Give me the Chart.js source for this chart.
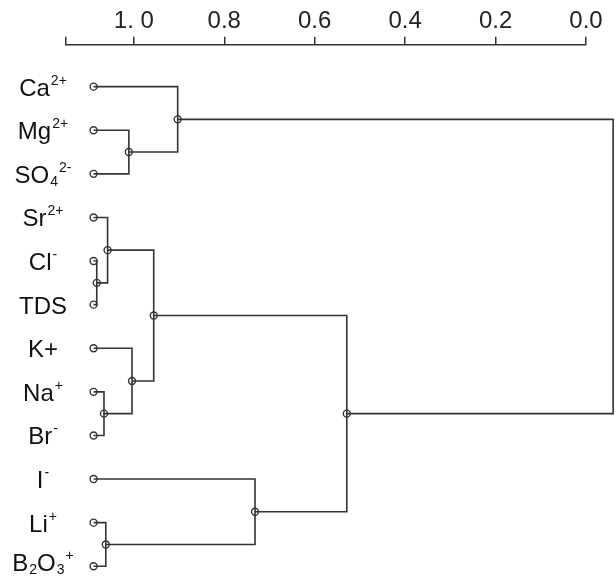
<!DOCTYPE html>
<html>
<head>
<meta charset="utf-8">
<script src="https://cdn.jsdelivr.net/npm/chart.js@4.4.1/dist/chart.umd.min.js"></script>
<style>
  html, body { margin: 0; padding: 0; background: #fff; }
  canvas { display: block; }
</style>
</head>
<body>
<canvas id="dendro" width="616" height="576"></canvas>
<script>
// leaves top to bottom (^ = superscript rest, _ = one subscript char)
const leafLabels = ["Ca^2+", "Mg^2+", "SO_4^2-", "Sr^2+", "Cl^-", "TDS", "K+", "Na^+", "Br^-", "I^-", "Li^+", "B_2O_3^+"];
const leafHeight = 1.089;

// merges, in order; node ids 0-11 are leaves, 12+ are these merges
const mergeLeft   = [4, 7, 10, 3, 1, 6, 15, 0, 9, 18, 19];
const mergeRight  = [5, 8, 11, 12, 2, 13, 17, 16, 14, 20, 21];
const mergeHeight = [1.082, 1.066, 1.062, 1.058, 1.011, 1.004, 0.956, 0.903, 0.732, 0.529, -0.060];

const tickValues = [1.15, 1.0, 0.8, 0.6, 0.4, 0.2, 0.0];
const tickLabels = ["", "1. 0", "0.8", "0.6", "0.4", "0.2", "0.0"];

const lineColor = "#333";
const fontFam = "'Liberation Sans', Arial";

// node positions
let nodeX = leafLabels.map(() => leafHeight);
let nodeY = leafLabels.map((l, i) => i);
mergeHeight.forEach((h, k) => {
    nodeX.push(h);
    nodeY.push((nodeY[mergeLeft[k]] + nodeY[mergeRight[k]]) / 2);
});

let datasets = [];
mergeHeight.forEach((h, k) => {
    let a = mergeLeft[k], b = mergeRight[k];
    datasets.push({
        type: "line",
        data: [
            { x: nodeX[a], y: nodeY[a] },
            { x: h, y: nodeY[a] },
            { x: h, y: nodeY[b] },
            { x: nodeX[b], y: nodeY[b] }
        ],
        borderColor: lineColor,
        borderWidth: 1.6,
        pointRadius: 0,
        fill: false,
        tension: 0,
        clip: false
    });
});

// circles on every node except the root
let markers = [];
for (let i = 0; i < nodeX.length - 1; i++) markers.push({ x: nodeX[i], y: nodeY[i] });
datasets.push({
    type: "scatter",
    data: markers,
    pointRadius: 3.5,
    pointBorderWidth: 1.4,
    pointBackgroundColor: "#fff",
    pointBorderColor: lineColor,
    clip: false
});

function parseLabel(s) {
    let parts = [], cur = "", i = 0;
    while (i < s.length) {
        let c = s[i];
        if (c === "_") {
            if (cur) parts.push({ t: cur, k: "n" }); cur = "";
            parts.push({ t: s[i + 1], k: "sub" });
            i += 2;
        } else if (c === "^") {
            if (cur) parts.push({ t: cur, k: "n" }); cur = "";
            parts.push({ t: s.slice(i + 1), k: "sup" });
            i = s.length;
        } else { cur += c; i++; }
    }
    if (cur) parts.push({ t: cur, k: "n" });
    return parts;
}

const leafLabelPlugin = {
    id: "leafLabels",
    afterDatasetsDraw(chart) {
        const ctx = chart.ctx;
        const ys = chart.scales.y;
        const cx = chart.chartArea.left - 23;
        ctx.save();
        ctx.fillStyle = "#111";
        ctx.textBaseline = "alphabetic";
        ctx.textAlign = "left";
        leafLabels.forEach((lab, i) => {
            let parts = parseLabel(lab);
            let w = 0;
            parts.forEach(p => {
                ctx.font = p.k === "n" ? "24px " + fontFam : "14px " + fontFam;
                p.w = ctx.measureText(p.t).width + (p.k === "n" ? 0 : 1);
                w += p.w;
            });
            let x = cx - w / 2;
            // keep the last label inside the canvas
            let base = Math.min(ys.getPixelForValue(i) + 9, 571);
            parts.forEach(p => {
                ctx.font = p.k === "n" ? "24px " + fontFam : "14px " + fontFam;
                let y = base;
                if (p.k === "sup") y = base - 11;
                if (p.k === "sub") y = base + 3;
                ctx.fillText(p.t, x + (p.k === "n" ? 0 : 1), y);
                x += p.w;
            });
        });
        ctx.restore();
    }
};

new Chart(document.getElementById("dendro").getContext("2d"), {
    type: "scatter",
    data: { datasets: datasets },
    options: {
        responsive: false,
        animation: false,
        layout: { padding: { left: 66, right: 30, top: 6, bottom: 0 } },
        scales: {
            x: {
                type: "linear",
                position: "top",
                reverse: true,
                min: 0,
                max: 1.15,
                afterBuildTicks: (scale) => {
                    scale.ticks = tickValues.map(v => ({ value: v }));
                },
                ticks: {
                    autoSkip: false,
                    maxRotation: 0,
                    padding: 1,
                    color: "#222",
                    font: { family: fontFam, size: 24 },
                    callback: (v) => {
                        let idx = tickValues.indexOf(v);
                        return idx >= 0 ? tickLabels[idx] : "";
                    }
                },
                grid: {
                    drawOnChartArea: false,
                    drawTicks: true,
                    tickLength: 8,
                    color: lineColor,
                    lineWidth: 1.5
                },
                border: { display: true, color: lineColor, width: 1.5 }
            },
            y: {
                type: "linear",
                display: false,
                reverse: true,
                min: -0.96,
                max: 11.1
            }
        },
        plugins: {
            legend: { display: false },
            tooltip: { enabled: false },
            title: { display: false }
        }
    },
    plugins: [leafLabelPlugin]
});
</script>
</body>
</html>
